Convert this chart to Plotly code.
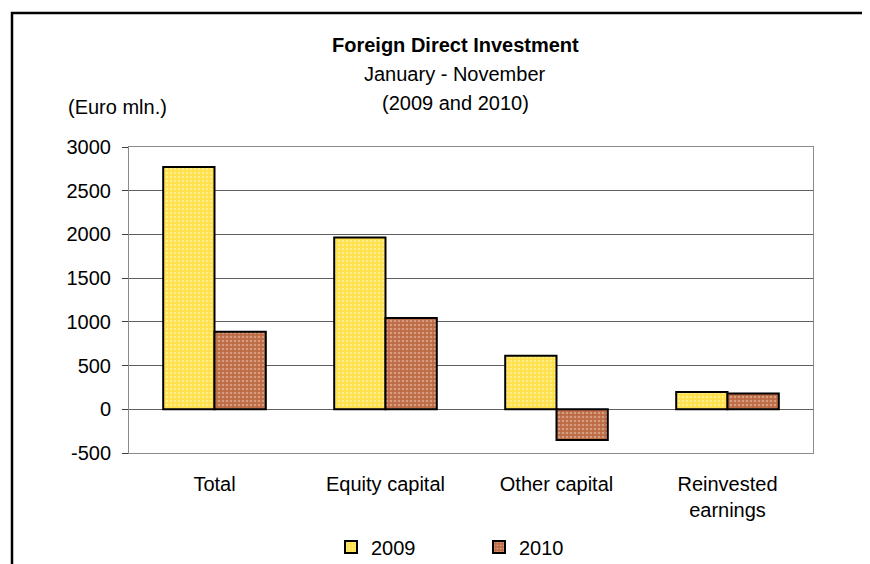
import plotly.graph_objects as go

categories = ["Total", "Equity capital", "Other capital", "Reinvested<br>earnings"]
values_2009 = [2770, 1965, 612, 197]
values_2010 = [886, 1044, -350, 181]
series_names = ["2009", "2010"]
y_ticks = [-500, 0, 500, 1000, 1500, 2000, 2500, 3000]
y_tick_text = ["-500", "0", "500", "1000", "1500", "2000", "2500", "3000"]

FONT = "Liberation Sans, Arial, sans-serif"

fig = go.Figure()
fig.add_trace(go.Bar(
    x=categories, y=values_2009, name=series_names[0],
    marker=dict(color="#FFE45C", line=dict(color="black", width=2),
                pattern=dict(shape=".", bgcolor="#FFE04A", fgcolor="#FFF8CC", size=4, solidity=0.35)),
))
fig.add_trace(go.Bar(
    x=categories, y=values_2010, name=series_names[1],
    marker=dict(color="#C0704A", line=dict(color="black", width=2),
                pattern=dict(shape=".", bgcolor="#BC6A44", fgcolor="#F0D0B8", size=4, solidity=0.35)),
))

OFF = 8  # page body offset
W, H = 870 - OFF, 564 - OFF
L, T = 129 - OFF, 147 - OFF
R = W - (813 - OFF)
B = H - (453 - OFF)
pw, ph = W - L - R, H - T - B

def px(xp):
    return (xp - OFF - L) / pw

def py(yp):
    return (H - B - (yp - OFF)) / ph

fig.update_layout(
    width=W, height=H,
    margin=dict(l=L, r=R, t=T, b=B, autoexpand=False),
    paper_bgcolor="white", plot_bgcolor="white",
    font=dict(family=FONT, size=20, color="black"),
    barmode="group", bargap=0.4, bargroupgap=0,
    showlegend=True,
    legend=dict(orientation="h", x=px(331), xanchor="left", y=py(547), yanchor="middle",
                font=dict(size=20), entrywidth=103, entrywidthmode="pixels",
                bgcolor="rgba(0,0,0,0)", traceorder="normal"),
    xaxis=dict(showgrid=False, showline=True, mirror=True, linecolor="#8a8a8a", linewidth=1,
               ticks="", ticklabelstandoff=13, tickfont=dict(size=20), zeroline=False,
               automargin=False),
    yaxis=dict(range=[-500, 3000], tickvals=y_ticks, ticktext=y_tick_text,
               showgrid=True, gridcolor="#5f5f5f", gridwidth=1,
               zeroline=False, showline=True, mirror=True, linecolor="#8a8a8a", linewidth=1,
               ticks="outside", ticklen=6, tickcolor="#404040", tickfont=dict(size=20),
               ticklabelstandoff=7, automargin=False),
    annotations=[
        dict(text="<b>Foreign Direct Investment</b>", x=px(455), y=py(45), xref="paper", yref="paper",
             showarrow=False, font=dict(size=20), xanchor="center", yanchor="middle"),
        dict(text="January - November", x=px(455), y=py(74), xref="paper", yref="paper",
             showarrow=False, font=dict(size=20), xanchor="center", yanchor="middle"),
        dict(text="(2009 and 2010)", x=px(455), y=py(103), xref="paper", yref="paper",
             showarrow=False, font=dict(size=20), xanchor="center", yanchor="middle"),
        dict(text="(Euro mln.)", x=px(117), y=py(107), xref="paper", yref="paper",
             showarrow=False, font=dict(size=20), xanchor="center", yanchor="middle"),
    ],
    shapes=[
        dict(type="rect", xref="paper", yref="paper", x0=px(12), x1=px(900), y0=py(620), y1=py(13),
             line=dict(color="black", width=2.5), fillcolor="rgba(0,0,0,0)", layer="below"),
    ],
)

fig.write_html("out.html")
